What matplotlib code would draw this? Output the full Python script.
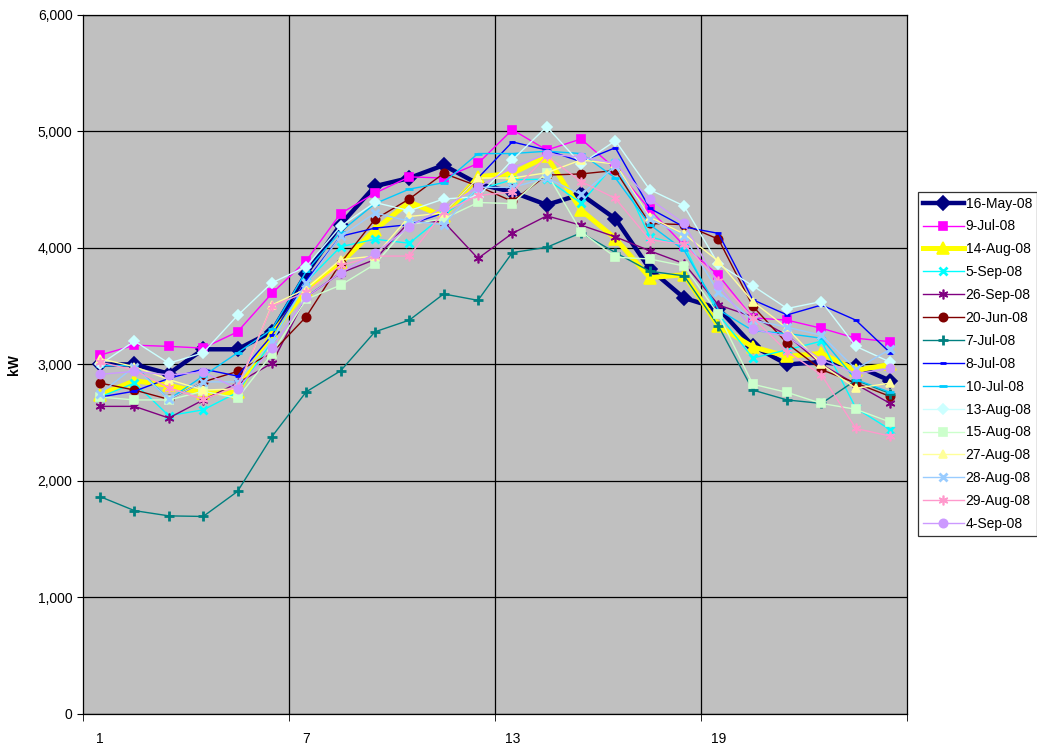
import matplotlib.pyplot as plt
import numpy as np
from matplotlib.ticker import FuncFormatter

plt.rcParams['font.family'] = ['Liberation Sans', 'DejaVu Sans']

hours = np.arange(1, 25)

# load profiles in kW, one list per day
may16 = [3000, 3000, 2920, 3130, 3130, 3280, 3780, 4200, 4530, 4600, 4710, 4550,
         4480, 4370, 4460, 4250, 3820, 3570, 3480, 3160, 3000, 3020, 2990, 2860]
jul09 = [3080, 3165, 3155, 3140, 3280, 3610, 3890, 4295, 4470, 4610, 4600, 4725,
         5015, 4840, 4935, 4680, 4330, 4020, 3765, 3400, 3380, 3310, 3225, 3195]
aug14 = [2740, 2860, 2820, 2755, 2760, 3260, 3640, 3870, 4155, 4395, 4270, 4610,
         4640, 4785, 4325, 4080, 3745, 3770, 3330, 3150, 3070, 3095, 2950, 3000]
sep05 = [2720, 2840, 2560, 2610, 2760, 3200, 3710, 4010, 4075, 4040, 4280, 4500,
         4585, 4590, 4385, 4725, 4095, 4020, 3430, 3055, 3125, 3200, 2625, 2440]
sep26 = [2640, 2640, 2540, 2695, 2840, 3010, 3580, 3785, 3900, 4225, 4225, 3910,
         4125, 4275, 4195, 4095, 3975, 3865, 3510, 3410, 3250, 3000, 2830, 2665]
jun20 = [2840, 2780, 2700, 2850, 2940, 3100, 3410, 3870, 4245, 4420, 4640, 4530,
         4400, 4625, 4635, 4665, 4210, 4200, 4075, 3500, 3180, 2955, 2840, 2725]
jul07 = [1865, 1745, 1700, 1695, 1910, 2380, 2765, 2945, 3280, 3380, 3605, 3550,
         3960, 4005, 4130, 3960, 3800, 3760, 3330, 2780, 2695, 2665, 2865, 2750]
jul08 = [2720, 2770, 2880, 2960, 2900, 3250, 3720, 4100, 4170, 4200, 4300, 4600,
         4910, 4840, 4740, 4860, 4340, 4180, 4125, 3555, 3425, 3510, 3380, 3100]
jul10 = [2990, 2990, 2700, 2900, 3100, 3300, 3800, 4140, 4380, 4505, 4560, 4810,
         4810, 4830, 4810, 4600, 4200, 3980, 3470, 3290, 3265, 3225, 2870, 2760]
aug13 = [3000, 3200, 3010, 3100, 3420, 3700, 3840, 4185, 4390, 4320, 4420, 4440,
         4755, 5040, 4720, 4920, 4500, 4360, 3860, 3675, 3480, 3540, 3155, 3020]
aug15 = [2720, 2695, 2695, 2770, 2710, 3090, 3560, 3680, 3860, 4200, 4250, 4390,
         4380, 4645, 4140, 3920, 3905, 3845, 3430, 2830, 2760, 2665, 2615, 2505]
aug27 = [3050, 2980, 2870, 2780, 2790, 3510, 3650, 3900, 3930, 4270, 4300, 4600,
         4600, 4645, 4755, 4720, 4265, 4120, 3885, 3540, 3310, 3000, 2795, 2840]
aug28 = [2750, 2980, 2700, 2850, 2850, 3200, 3700, 4100, 4300, 4230, 4200, 4520,
         4520, 4600, 4460, 4700, 4250, 4100, 3620, 3380, 3320, 3250, 2960, 3130]
aug29 = [3020, 2950, 2800, 2700, 2810, 3500, 3620, 3850, 3930, 3930, 4310, 4450,
         4480, 4790, 4570, 4425, 4070, 4030, 3720, 3400, 3110, 2910, 2450, 2385]
sep04 = [2915, 2940, 2910, 2935, 2790, 3140, 3580, 3785, 3955, 4180, 4350, 4520,
         4690, 4805, 4780, 4725, 4420, 4210, 3680, 3300, 3240, 3040, 2920, 2965]

labels = ['16-May-08', '9-Jul-08', '14-Aug-08', '5-Sep-08', '26-Sep-08',
          '20-Jun-08', '7-Jul-08', '8-Jul-08', '10-Jul-08', '13-Aug-08',
          '15-Aug-08', '27-Aug-08', '28-Aug-08', '29-Aug-08', '4-Sep-08']
series = [may16, jul09, aug14, sep05, sep26, jun20, jul07, jul08, jul10,
          aug13, aug15, aug27, aug28, aug29, sep04]

asterisk = (6, 2, 0)
styles = [
    ('#000080', 'D', 3.2, 7),
    ('#FF00FF', 's', 1.0, 6),
    ('#FFFF00', '^', 3.6, 8),
    ('#00FFFF', 'x', 1.0, 6),
    ('#800080', asterisk, 1.0, 7),
    ('#800000', 'o', 1.0, 6),
    ('#008080', '+', 1.0, 7),
    ('#0000FF', '_', 1.0, 5),
    ('#00CCFF', '_', 1.0, 6),
    ('#CCFFFF', 'D', 1.0, 5),
    ('#CCFFCC', 's', 1.0, 6),
    ('#FFFF99', '^', 1.0, 6),
    ('#99CCFF', 'x', 1.0, 6),
    ('#FF99CC', asterisk, 1.0, 7),
    ('#CC99FF', 'o', 1.0, 6),
]

fig = plt.figure(figsize=(10.37, 7.46), dpi=100)
ax = fig.add_axes([0.080, 0.043, 0.795, 0.937])
ax.set_facecolor('#C0C0C0')

for vals, lab, (c, m, lw, ms) in zip(series, labels, styles):
    mew = 2.0 if m in ('_', '+', 'x') else 1.2
    ax.plot(hours, vals, color=c, lw=lw, marker=m, ms=ms, mfc=c, mec=c,
            mew=mew, label=lab)

ax.set_xlim(0.5, 24.5)
ax.set_ylim(0, 6000)
ax.set_yticks(np.arange(0, 6001, 1000))
ax.yaxis.set_major_formatter(FuncFormatter(lambda v, p: f'{int(v):,}'))
ax.set_xticks([1, 7, 13, 19])
ax.set_xticks(np.arange(0.5, 25, 6), minor=True)
ax.tick_params(axis='x', which='major', length=0, labelsize=10, pad=13)
ax.tick_params(axis='x', which='minor', length=5, direction='out')
ax.tick_params(axis='y', length=4, direction='out', labelsize=10)
ax.grid(axis='y', color='black', lw=0.9)
for gx in (6.5, 12.5, 18.5):
    ax.axvline(gx, color='black', lw=0.9, zorder=0.5)
ax.set_axisbelow(True)
ax.set_ylabel('kW', fontweight='bold', fontsize=10, labelpad=12)
for s in ax.spines.values():
    s.set_color('black')
    s.set_linewidth(0.9)

leg = ax.legend(loc='upper left', bbox_to_anchor=(0.885, 0.743),
                bbox_transform=fig.transFigure, fontsize=10, frameon=True,
                fancybox=False, edgecolor='black', handlelength=3.0,
                borderpad=0.35, labelspacing=0.64, handletextpad=0.1,
                borderaxespad=0)
leg.get_frame().set_linewidth(0.9)

fig.savefig('out.png', dpi=100)
